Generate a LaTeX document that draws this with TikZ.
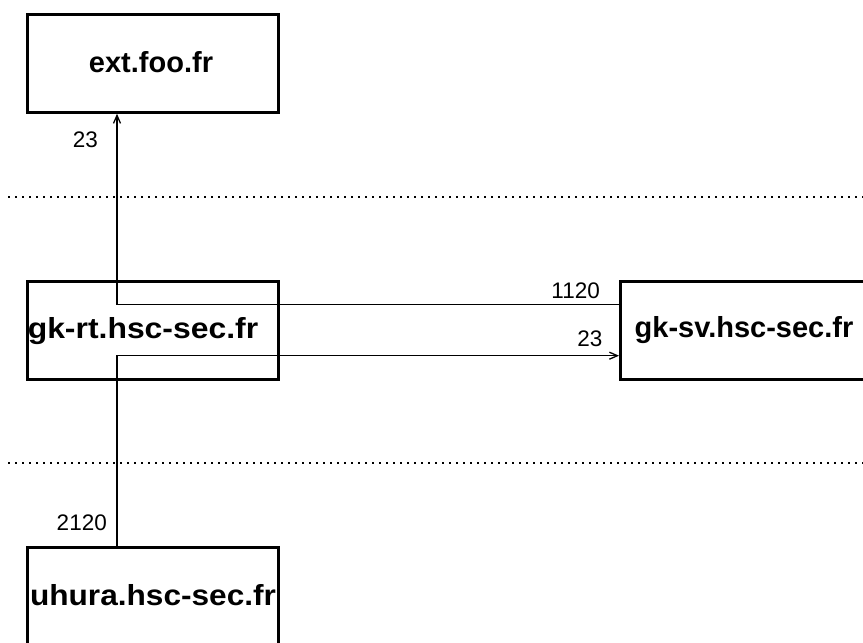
\documentclass[tikz,border=0pt]{standalone}
\usepackage{fontspec}
\setmainfont{Liberation Sans}
\usetikzlibrary{arrows.meta}
\begin{document}
\begin{tikzpicture}[x=1pt,y=-1pt,
  hostbox/.style={draw,line width=3pt,minimum width=251pt,minimum height=98pt,inner sep=0pt},
  hosttext/.style={anchor=base,inner sep=0pt,font=\fontsize{29}{30}\selectfont\bfseries},
  portlbl/.style={anchor=base east,inner sep=0pt,font=\fontsize{22.5}{24}\selectfont},
  conn/.style={line width=1.3pt},
  arr/.style={conn,-{Straight Barb[length=8pt,width=7pt,line width=1.3pt]}},
  zone/.style={line width=1.5pt,dash pattern=on 1.5pt off 5.5pt}]
\useasboundingbox (0,0) rectangle (863,643);
\clip (0,0) rectangle (863,643);
% zone separators
\coordinate (z1a) at (8,197);
\coordinate (z1b) at (863,197);
\coordinate (z2a) at (8,463);
\coordinate (z2b) at (863,463);
\draw[zone] (z1a) -- (z1b);
\draw[zone] (z2a) -- (z2b);
% boxes
\node[hostbox] (ext) at (152.5,63.25) {};
\node[hostbox] (rt) at (152.5,330) {};
\node[hostbox] (sv) at (746,330) {};
\node[hostbox] (uh) at (152.5,596.5) {};
% texts
\node[hosttext] (extT) at (151,72) {ext.foo.fr};
\node[hosttext] (rtT) at (143,338.3) {\scalebox{1.10}[1]{gk-rt.hsc-sec.fr}};
\node[hosttext] (svT) at (744,337.5) {gk-sv.hsc-sec.fr};
\node[hosttext] (uhT) at (153,605) {\scalebox{1.09}[1]{uhura.hsc-sec.fr}};
% connectors
\coordinate (b1) at (117,304.3);
\coordinate (b2) at (117,355.7);
\draw[arr] (sv.west |- b1) -- (b1) -- (b1 |- ext.south);
\draw[arr] (b2 |- uh.north) -- (b2) -- (b2 -| sv.west);
% labels
\node[portlbl] (l1) at (98,147) {23};
\node[portlbl] (l2) at (600,298) {1120};
\node[portlbl] (l3) at (602.5,346.7) {23};
\node[portlbl] (l4) at (107,530.7) {2120};
\end{tikzpicture}
\end{document}
